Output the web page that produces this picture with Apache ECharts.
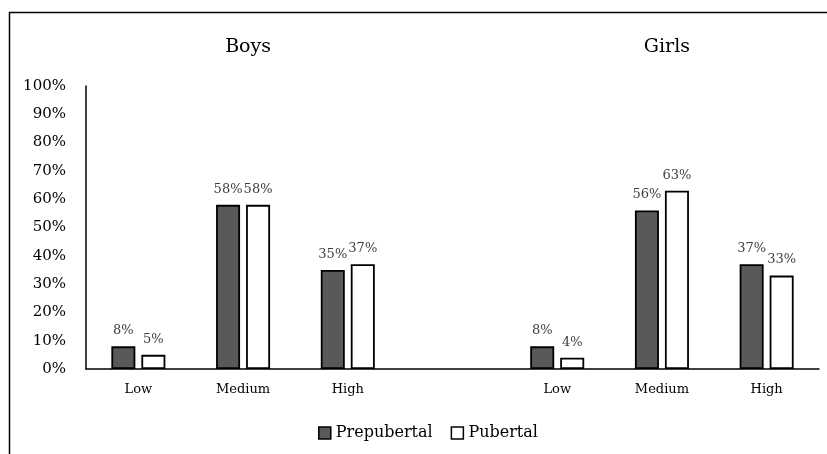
<!DOCTYPE html>
<html>
<head>
<meta charset="utf-8">
<script src="https://cdn.jsdelivr.net/npm/echarts@6/dist/echarts.min.js"></script>
<style>html,body{margin:0;padding:0;background:#fff;}#c{width:827px;height:454px;}</style>
</head>
<body>
<div id="c"></div>
<script>
const categories = ['Low', 'Medium', 'High', '', 'Low', 'Medium', 'High'];
const prepubertal = [8, 58, 35, null, 8, 56, 37];
const pubertal = [5, 58, 37, null, 4, 63, 33];
const yTicks = { min: 0, max: 100, interval: 10 };
const panelTitles = ['Boys', 'Girls'];

const FONT = '"Palatino Linotype", "Book Antiqua", Palatino, "DejaVu Serif", serif';
const chart = echarts.init(document.getElementById('c'));
const gridLeft = 86, gridRight = 827 - 819;
const plotW = 819 - 86;
const slot = plotW / categories.length;

chart.setOption({
  animation: false,
  backgroundColor: '#fff',
  graphic: [{
    type: 'rect', shape: { x: 9.5, y: 12.5, width: 840, height: 470 },
    style: { fill: 'none', stroke: '#000', lineWidth: 1.5 }, silent: true
  }],
  title: [
    { text: panelTitles[0], left: gridLeft + slot * 1.5, top: 33, textAlign: 'center',
      textStyle: { fontFamily: FONT, fontSize: 19, fontWeight: 'normal', color: '#000' } },
    { text: panelTitles[1], left: gridLeft + slot * 5.5, top: 33, textAlign: 'center',
      textStyle: { fontFamily: FONT, fontSize: 19, fontWeight: 'normal', color: '#000' } }
  ],
  legend: {
    bottom: 8, left: 313, itemWidth: 12, itemHeight: 12, itemGap: 18,
    icon: 'rect',
    textStyle: { fontFamily: FONT, fontSize: 16, color: '#000' },
    data: [
      { name: 'Prepubertal', itemStyle: { color: '#595959', borderColor: '#000', borderWidth: 1.5 } },
      { name: 'Pubertal', itemStyle: { color: '#fff', borderColor: '#000', borderWidth: 1.5 } }
    ]
  },
  grid: { left: gridLeft, right: gridRight, top: 86, bottom: 454 - 369, containLabel: false },
  xAxis: {
    type: 'category', data: categories,
    axisLine: { lineStyle: { color: '#000', width: 1.5 } },
    axisTick: { show: false },
    axisLabel: { fontFamily: FONT, fontSize: 13, color: '#000', margin: 14 }
  },
  yAxis: {
    type: 'value', min: yTicks.min, max: yTicks.max, interval: yTicks.interval,
    axisLine: { show: true, lineStyle: { color: '#000', width: 1.5 } },
    axisTick: { show: false },
    splitLine: { show: false },
    axisLabel: { fontFamily: FONT, fontSize: 15, color: '#000', margin: 20, formatter: '{value}%' }
  },
  series: [
    { name: 'Prepubertal', type: 'bar', data: prepubertal, barWidth: 24, barGap: '25%',
      itemStyle: { color: '#595959', borderColor: '#000', borderWidth: 1.8 },
      label: { show: true, position: 'top', distance: 9, formatter: '{c}%', fontFamily: FONT, fontSize: 13, color: '#404040' } },
    { name: 'Pubertal', type: 'bar', data: pubertal, barWidth: 24,
      itemStyle: { color: '#fff', borderColor: '#000', borderWidth: 1.8 },
      label: { show: true, position: 'top', distance: 9, formatter: '{c}%', fontFamily: FONT, fontSize: 13, color: '#404040' } }
  ]
});
</script>
</body>
</html>
